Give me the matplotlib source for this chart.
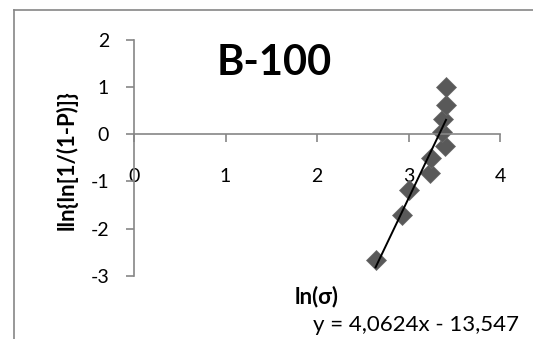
import matplotlib
matplotlib.use('Agg')
import matplotlib.pyplot as plt
from matplotlib.lines import Line2D

# data
ln_sigma = [2.64, 2.93, 3.01, 3.23, 3.25, 3.40, 3.37, 3.38, 3.41, 3.41]
weibull_y = [-2.66, -1.71, -1.19, -0.82, -0.50, -0.24, 0.05, 0.33, 0.63, 1.01]
slope, intercept = 4.0624, -13.547
x_ticks = [0, 1, 2, 3, 4]
y_ticks = [-3, -2, -1, 0, 1, 2]

plt.rcParams['font.family'] = ['Lato', 'DejaVu Sans']
plt.rcParams['axes.unicode_minus'] = False

W, H = 533, 339
fig = plt.figure(figsize=(W / 100, H / 100), dpi=100)
ax = fig.add_axes([134 / W, 1 - 275.7 / H, (500 - 134) / W, (275.7 - 40) / H])

grey = '#868686'
ax.set_xlim(0, 4)
ax.set_ylim(-3, 2)
ax.spines['top'].set_visible(False)
ax.spines['right'].set_visible(False)
ax.spines['bottom'].set_position(('data', 0))
for s in ('left', 'bottom'):
    ax.spines[s].set_color(grey)
    ax.spines[s].set_linewidth(1.2)
ax.set_xticks(x_ticks)
ax.set_yticks(y_ticks)
ax.tick_params(axis='both', colors=grey, length=6, width=1.2, labelcolor='black',
               labelsize=14)
ax.tick_params(axis='x', direction='out', pad=18)
ax.tick_params(axis='y', direction='out', pad=12)

# trend line
xs = [min(ln_sigma), max(ln_sigma)]
ax.plot(xs, [slope * v + intercept for v in xs], color='black', lw=1.4, zorder=3)
ax.plot(ln_sigma, weibull_y, 'D', color='#595959', markersize=10.5,
        markeredgecolor='#6a6a6a', markeredgewidth=0.5, zorder=2, clip_on=False)

fig.text(274 / W, 1 - 63 / H, 'B-100', fontsize=30, fontweight='bold',
         ha='center', va='center')
fig.text(67 / W, 1 - 160.6 / H, 'lln{ln[1/(1-P)]}', fontsize=16, fontweight='bold',
         rotation=90, ha='center', va='center')
fig.text(317 / W, 1 - 303 / H, 'ln(σ)', fontsize=16, fontweight='bold',
         ha='center', va='baseline')
fig.text(416 / W, 1 - 331 / H, 'y = 4,0624x - 13,547', fontsize=16,
         ha='center', va='baseline')

# chart border (runs off the right and bottom edges)
fig.add_artist(Line2D([14 / W, 14 / W], [0, 1 - 9.5 / H], color=grey, lw=1.2))
fig.add_artist(Line2D([14 / W, 1], [1 - 9.5 / H, 1 - 9.5 / H], color=grey, lw=1.2))

fig.savefig('out.png', dpi=100)
